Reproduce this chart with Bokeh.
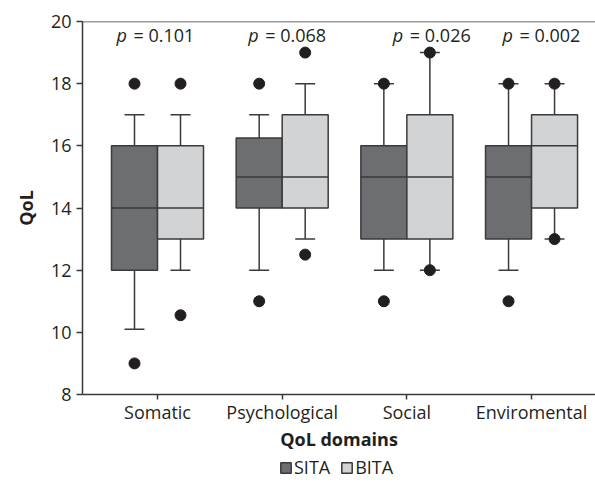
import numpy as np
from bokeh.plotting import figure
from bokeh.layouts import column
from bokeh.models import Range1d, FixedTicker, Span, Legend, LegendItem, ColumnDataSource
from bokeh.core.properties import value
from bokeh.embed import file_html
from bokeh.resources import INLINE

domains = ["Somatic", "Psychological", "Social", "Enviromental"]
groups = ["SITA", "BITA"]
p_values = ["0.101", "0.068", "0.026", "0.002"]

sita_low = [10.1, 12, 12, 12]
sita_q1 = [12, 14, 13, 13]
sita_med = [14, 15, 15, 15]
sita_q3 = [16, 16.25, 16, 16]
sita_high = [17, 17, 18, 18]
sita_out_dom = ["Somatic", "Somatic", "Psychological", "Psychological",
                "Social", "Social", "Enviromental", "Enviromental"]
sita_out_val = [18, 9, 18, 11, 18, 11, 18, 11]

bita_low = [12, 13, 12, 13]
bita_q1 = [13, 14, 13, 14]
bita_med = [14, 15, 15, 16]
bita_q3 = [16, 17, 17, 17]
bita_high = [17, 18, 19, 18]
bita_out_dom = ["Somatic", "Somatic", "Psychological", "Psychological",
                "Social", "Social", "Enviromental", "Enviromental"]
bita_out_val = [18, 10.55, 19, 12.5, 19, 12, 18, 13]

FONT = "Open Sans"
TXT = "#231f20"
EDGE = "#3a3a3a"
colors = {"SITA": "#6d6e71", "BITA": "#d1d3d4"}

pos = {d: i + 1 for i, d in enumerate(domains)}
centers = np.array([pos[d] for d in domains], dtype=float)
box_w = 0.369
offs = {"SITA": -box_w / 2, "BITA": box_w / 2}
cap_hw = 0.08

p = figure(width=595, height=455, x_range=Range1d(0.3984, 4.513), y_range=Range1d(8, 20),
           output_backend="svg", toolbar_location=None,
           min_border_left=82, min_border_right=0, min_border_top=21, min_border_bottom=61)
p.xgrid.visible = False
p.ygrid.visible = False
p.outline_line_color = None
p.background_fill_color = "white"

stats = {
    "SITA": (sita_low, sita_q1, sita_med, sita_q3, sita_high, sita_out_dom, sita_out_val),
    "BITA": (bita_low, bita_q1, bita_med, bita_q3, bita_high, bita_out_dom, bita_out_val),
}

for g in groups:
    lo, q1, med, q3, hi, od, ov = stats[g]
    x = centers + offs[g]
    src = ColumnDataSource(dict(x=x, lo=lo, q1=q1, med=med, q3=q3, hi=hi,
                                x0=x - box_w / 2, x1=x + box_w / 2,
                                c0=x - cap_hw, c1=x + cap_hw))
    p.segment(x0="x", y0="q3", x1="x", y1="hi", source=src, line_color=EDGE, line_width=1.5)
    p.segment(x0="x", y0="q1", x1="x", y1="lo", source=src, line_color=EDGE, line_width=1.5)
    p.segment(x0="c0", y0="hi", x1="c1", y1="hi", source=src, line_color=EDGE, line_width=1.5)
    p.segment(x0="c0", y0="lo", x1="c1", y1="lo", source=src, line_color=EDGE, line_width=1.5)
    p.quad(left="x0", right="x1", bottom="q1", top="q3", source=src,
           fill_color=colors[g], line_color=EDGE, line_width=1.5)
    p.segment(x0="x0", y0="med", x1="x1", y1="med", source=src, line_color=EDGE, line_width=1.5)
    ox = np.array([pos[d] for d in od], dtype=float) + offs[g]
    p.scatter(x=ox, y=ov, size=11, marker="circle", fill_color=TXT, line_color=TXT)

p.add_layout(Span(location=20, dimension="width", line_color=EDGE, line_width=1.5))

p_shift = [-41, -34, -14, -29]
psrc = ColumnDataSource(dict(x=centers, y=[20] * 4, pv=["= " + v for v in p_values],
                             pt=["p"] * 4, xo=p_shift, xo2=[s + 17 for s in p_shift]))
p.text(x="x", y="y", text="pt", x_offset="xo", y_offset=1, source=psrc,
       text_font=value(FONT), text_font_style="italic", text_font_size="18px",
       text_color=TXT, text_align="left", text_baseline="top")
p.text(x="x", y="y", text="pv", x_offset="xo2", y_offset=1, source=psrc,
       text_font=value(FONT), text_font_size="18px",
       text_color=TXT, text_align="left", text_baseline="top")

for ax in (p.xaxis[0], p.yaxis[0]):
    ax.axis_line_color = EDGE
    ax.axis_line_width = 1.5
    ax.major_tick_line_color = EDGE
    ax.major_tick_line_width = 1.5
    ax.major_tick_in = 0
    ax.minor_tick_line_color = None
    ax.major_label_text_font = FONT
    ax.major_label_text_font_size = "18px"
    ax.major_label_text_color = TXT
    ax.axis_label_text_font = FONT
    ax.axis_label_text_font_size = "18px"
    ax.axis_label_text_font_style = "bold"
    ax.axis_label_text_color = TXT

p.yaxis.ticker = FixedTicker(ticks=[8, 10, 12, 14, 16, 18, 20])
p.yaxis.major_tick_out = 6
p.yaxis.major_label_standoff = 5
p.yaxis.axis_label = "QoL"
p.yaxis.axis_label_standoff = 10

p.xaxis.ticker = FixedTicker(ticks=list(centers))
p.xaxis.major_label_overrides = {int(pos[d]): d for d in domains}
p.xaxis.major_tick_out = 5
p.xaxis.major_label_standoff = 0
p.xaxis.axis_label = "QoL domains"
p.xaxis.axis_label_standoff = 0

# legend in a thin strip below the chart (its frame is aligned with the chart's frame)
lf = figure(width=595, height=28, x_range=Range1d(0, 1), y_range=Range1d(0, 1),
            output_backend="svg", toolbar_location=None,
            min_border_left=0, min_border_right=0, min_border_top=0, min_border_bottom=0)
lf.axis.visible = False
lf.grid.visible = False
lf.outline_line_color = None
items = []
for g in groups:
    placeholder = ColumnDataSource(dict(l=[np.nan], r=[np.nan], b=[np.nan], t=[np.nan]))
    rr = lf.quad(left="l", right="r", bottom="b", top="t", source=placeholder,
                 fill_color=colors[g], line_color=EDGE, line_width=1.5)
    items.append(LegendItem(label=g, renderers=[rr]))
legend = Legend(items=items, orientation="horizontal", location=(197, 4),
                label_text_font=FONT, label_text_font_size="18px", label_text_color=TXT,
                glyph_width=13, glyph_height=13, label_standoff=2, spacing=10, label_height=18,
                padding=0, margin=0, border_line_color=None, background_fill_alpha=0)
lf.add_layout(legend, "center")

layout = column(p, lf, spacing=0)
open("out.html", "w").write(file_html(layout, INLINE))
